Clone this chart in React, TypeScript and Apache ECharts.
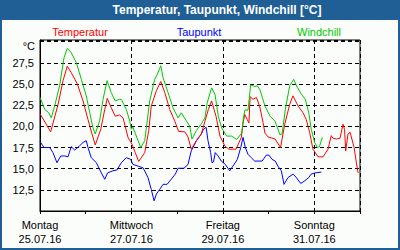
import React, { useEffect, useRef } from "react";
import * as echarts from "echarts";

// Hours since Monday 25.07.16 00:00 and the measured values (°C)
const tempHours = [0, 5.6, 9.5, 12.1, 14.3, 16.4, 19.6, 22.6, 25.2, 27.3, 29.0, 31.9, 34.0, 35.3, 37.4, 39.5, 41.8, 43.6, 46.2, 48.3, 50.0, 51.8, 55.0, 57.1, 58.4, 61.1, 63.4, 65.5, 68.1, 70.7, 72.8, 76.0, 77.7, 79.4, 82.1, 84.7, 86.6, 88.4, 90.1, 92.4, 94.5, 97.1, 99.2, 102.9, 105.7, 106.6, 107.5, 108.8, 109.7, 110.3, 111.8, 113.6, 115.3, 117.1, 118.1, 119.7, 123.4, 126.3, 128.5, 131.1, 132.8, 135.5, 138.1, 139.8, 141.6, 143.3, 146.0, 148.6, 151.2, 152.9, 153.8, 155.6, 157.5, 159.1, 159.9, 160.5, 161.7, 162.8, 164.9, 166.1, 167.0];
const tempValues = [21.5, 19.35, 22.6, 25.4, 27.1, 26.35, 25.0, 23.0, 20.8, 19.1, 17.8, 19.65, 22.0, 23.3, 22.2, 21.2, 21.35, 21.0, 18.7, 17.9, 16.9, 15.85, 16.9, 19.5, 22.4, 24.2, 25.3, 24.0, 22.0, 20.65, 19.4, 19.35, 18.75, 17.3, 18.3, 19.1, 20.6, 22.0, 23.0, 21.2, 18.85, 17.65, 17.3, 17.3, 18.7, 20.4, 21.4, 20.8, 20.4, 23.5, 23.2, 23.4, 22.4, 20.45, 19.2, 18.75, 18.5, 17.5, 20.25, 22.6, 23.6, 22.4, 21.6, 20.8, 19.25, 17.3, 16.4, 16.4, 17.3, 18.9, 18.6, 18.5, 18.6, 20.25, 19.6, 17.1, 19.1, 19.3, 17.5, 15.7, 14.5];

const dewHours = [0, 2.1, 5.1, 6.8, 8.9, 10.9, 13.1, 14.7, 16.4, 18.2, 20.8, 22.6, 24.3, 25.2, 26.9, 29.6, 32.2, 34.0, 35.5, 38.3, 40.4, 42.7, 45.3, 47.6, 48.8, 51.5, 54.1, 56.7, 58.4, 59.9, 61.1, 62.8, 64.6, 66.7, 68.9, 71.0, 72.5, 75.6, 77.7, 79.4, 82.1, 84.7, 85.7, 87.2, 88.2, 89.6, 90.3, 91.1, 92.0, 93.5, 95.2, 97.3, 99.6, 101.3, 103.6, 105.4, 106.6, 107.8, 109.2, 110.9, 112.7, 116.6, 118.8, 120.2, 121.8, 123.5, 124.9, 126.7, 128.1, 130.2, 132.9, 134.4, 136.9, 138.6, 141.1, 142.3, 144.4, 147.7];
const dewValues = [18.2, 17.5, 17.5, 16.9, 15.7, 16.5, 16.5, 16.4, 17.6, 17.2, 17.7, 18.1, 18.3, 17.5, 16.3, 15.7, 14.5, 13.75, 14.5, 14.75, 14.85, 15.7, 16.3, 16.1, 15.5, 15.3, 15.1, 13.95, 12.55, 11.2, 12.0, 12.55, 13.15, 13.15, 13.75, 14.35, 15.05, 15.05, 15.5, 17.1, 18.3, 19.1, 19.6, 19.9, 18.3, 16.9, 15.7, 15.8, 16.9, 16.5, 15.9, 15.5, 14.75, 15.3, 16.1, 17.5, 18.7, 17.5, 16.7, 16.3, 15.9, 15.9, 16.6, 16.6, 16.1, 15.9, 15.3, 14.75, 13.15, 13.95, 14.35, 14.0, 13.25, 13.5, 13.95, 14.35, 14.5, 14.6];

const chillHours = [0, 2.5, 4.6, 5.9, 7.7, 10.3, 12.6, 14.3, 16.4, 19.1, 21.7, 24.3, 26.1, 27.8, 29.0, 31.3, 33.1, 35.2, 37.4, 39.5, 41.8, 42.7, 45.3, 47.1, 47.9, 48.8, 51.5, 52.9, 55.0, 57.6, 60.2, 61.6, 63.4, 64.6, 67.2, 69.8, 72.5, 74.2, 76.8, 78.6, 79.8, 82.1, 84.7, 86.6, 87.8, 90.1, 91.9, 93.6, 95.4, 98.0, 100.6, 103.3, 105.9, 106.8, 107.6, 109.2, 110.6, 112.9, 114.1, 115.5, 118.1, 120.8, 123.4, 126.0, 127.1, 128.8, 131.1, 133.2, 135.1, 137.2, 139.3, 141.1, 142.4, 144.2, 145.6, 146.7, 148.2];
const chillValues = [23.4, 22.0, 21.6, 21.0, 22.4, 24.8, 28.1, 29.2, 28.7, 27.5, 25.55, 23.6, 21.6, 19.85, 19.1, 20.65, 23.2, 25.4, 24.0, 23.0, 23.2, 23.2, 22.0, 20.65, 19.65, 19.9, 18.3, 17.5, 18.3, 23.0, 25.55, 26.15, 27.15, 25.75, 24.0, 22.2, 21.0, 21.6, 20.65, 20.05, 18.5, 19.5, 20.3, 21.0, 22.8, 24.55, 23.75, 21.2, 19.8, 18.85, 18.85, 18.45, 19.2, 21.0, 21.95, 21.9, 24.9, 24.7, 24.8, 24.3, 22.4, 21.2, 20.6, 19.0, 19.1, 22.0, 24.8, 25.55, 24.6, 23.8, 23.2, 21.6, 19.65, 18.1, 17.5, 17.6, 18.7];

const dayNames = ["Montag", "Dienstag", "Mittwoch", "Donnerstag", "Freitag", "Samstag", "Sonntag"];
const dayDates = ["25.07.16", "26.07.16", "27.07.16", "28.07.16", "29.07.16", "30.07.16", "31.07.16"];

const seriesNames = ["Temperatur", "Taupunkt", "Windchill"];
const seriesColors = ["#ff0000", "#0000ff", "#00c800"];

const FONT = "'Liberation Sans', Arial, sans-serif";
const FRAME = "#1f5f96";

function pairs(h: number[], v: number[]) {
  return h.map((x, i) => [x, v[i]]);
}

export default function App() {
  const ref = useRef<HTMLDivElement>(null);

  useEffect(() => {
    if (!ref.current) return;
    const chart = echarts.init(ref.current, undefined, { renderer: "svg" });
    const dash = [4, 3];
    chart.setOption({
      animation: false,
      backgroundColor: FRAME,
      textStyle: { fontFamily: FONT },
      graphic: [
        {
          type: "rect",
          silent: true,
          z: -10,
          shape: { x: 2, y: 20, width: 396, height: 228 },
          style: { fill: "#fbfdfb" },
        },
        {
          type: "text",
          x: 217,
          y: 10,
          style: {
            text: "Temperatur, Taupunkt, Windchill [°C]",
            fill: "#ffffff",
            font: `bold 12px ${FONT}`,
            align: "center",
            verticalAlign: "middle",
          },
        },
        {
          type: "text",
          x: 35,
          y: 46,
          style: { text: "°C", fill: "#000", font: `11px ${FONT}`, align: "right", verticalAlign: "middle" },
        },
        ...seriesNames.map((n, i) => ({
          type: "text",
          x: [80, 199, 319][i],
          y: 32,
          style: { text: n, fill: seriesColors[i], font: `11px ${FONT}`, align: "center", verticalAlign: "middle" },
        })),
      ],
      grid: {
        left: 40,
        right: 40,
        top: 40,
        bottom: 39,
        show: true,
        borderColor: "#000",
        borderWidth: 1,
        backgroundColor: "transparent",
      },
      xAxis: [
        {
          type: "value",
          min: 0,
          max: 168,
          interval: 48,
          axisLine: { show: true, lineStyle: { color: "#000", width: 1 } },
          axisTick: { show: false },
          splitLine: { show: true, lineStyle: { color: "#000", type: dash, width: 1 } },
          axisLabel: {
            color: "#000",
            fontSize: 11,
            fontFamily: FONT,
            lineHeight: 14,
            margin: 7,
            showMaxLabel: false,
            formatter: (v: number) => {
              const d = Math.round(v / 24);
              if (v % 48 !== 0 || d >= dayNames.length) return "";
              return `${dayNames[d]}\n${dayDates[d]}`;
            },
          },
        },
        {
          type: "value",
          min: 0,
          max: 168,
          interval: 24,
          position: "bottom",
          axisLine: { show: false },
          axisTick: { show: true, length: 3, lineStyle: { color: "#000", width: 1 } },
          axisLabel: { show: false },
          splitLine: { show: false },
        },
      ],
      yAxis: {
        type: "value",
        min: 10,
        max: 30.2,
        interval: 2.5,
        axisLine: { show: true, lineStyle: { color: "#000" } },
        axisTick: { show: false },
        splitLine: { show: true, lineStyle: { color: "#000", type: dash, width: 1 } },
        axisLabel: {
          color: "#000",
          fontSize: 11,
          fontFamily: FONT,
          margin: 6,
          showMinLabel: false,
          showMaxLabel: false,
          formatter: (v: number) => (v > 10 && v < 30 ? v.toFixed(1).replace(".", ",") : ""),
        },
      },
      series: [
        { name: seriesNames[1], data: pairs(dewHours, dewValues), color: seriesColors[1] },
        { name: seriesNames[0], data: pairs(tempHours, tempValues), color: seriesColors[0] },
        { name: seriesNames[2], data: pairs(chillHours, chillValues), color: seriesColors[2] },
      ].map((s) => ({
        ...s,
        type: "line",
        xAxisIndex: 0,
        showSymbol: false,
        symbol: "none",
        lineStyle: { width: 1, color: s.color },
        emphasis: { disabled: true },
      })),
    });
    return () => chart.dispose();
  }, []);

  return (
    <div
      ref={ref}
      style={{ position: "fixed", left: 0, top: 0, width: 400, height: 250 }}
    />
  );
}
